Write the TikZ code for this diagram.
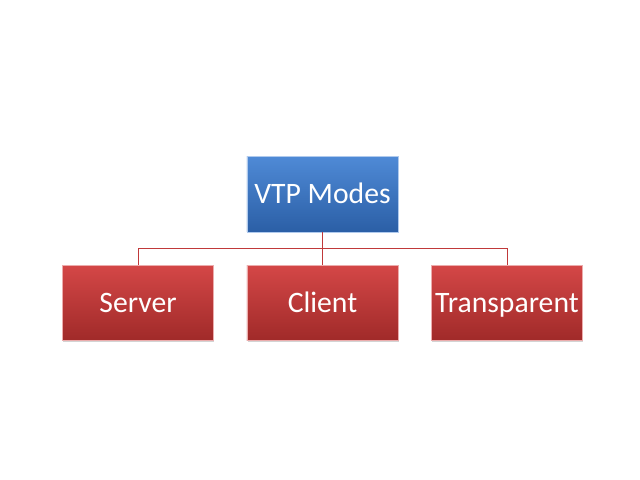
\documentclass[tikz,border=0pt]{standalone}
\usepackage{fontspec}
\setmainfont{Carlito}
\usetikzlibrary{shadows,positioning,calc}

\definecolor{topblue}{HTML}{4F8AD6}
\definecolor{botblue}{HTML}{2B5FA6}
\definecolor{topred}{HTML}{D44747}
\definecolor{botred}{HTML}{A02A29}
\definecolor{linkred}{HTML}{C0393A}

\begin{document}
\begin{tikzpicture}
[node distance=1.3cm,
box/.style={shape=rectangle,minimum width=6cm,minimum height=3cm,inner sep=2pt,
  text=white,font=\fontsize{33.5}{40}\selectfont,text height=21.5pt,text depth=0pt,
  line width=0.6pt,
  drop shadow={shadow xshift=0.8pt,shadow yshift=-1.2pt,opacity=0.35}},
headbox/.style={box,top color=topblue,bottom color=botblue,draw=white!55!topblue},
modebox/.style={box,top color=topred,bottom color=botred,draw=white!55!topred},
link/.style={line width=1.1pt,color=linkred}]

\useasboundingbox (0,0) rectangle (25.4,-19.05);

\node (vtp) [headbox] at (12.8,-7.7) {VTP Modes};
\node (client) [modebox,below=of vtp] {Client};
\node (server) [modebox,left=of client] {Server};
\node (transp) [modebox,right=of client] {Transparent};

\coordinate (bus) at ($(vtp.south)!0.5!(client.north)$);
\draw[link] (vtp) -- (client);
\draw[link] (bus) -| (server);
\draw[link] (bus) -| (transp);

\end{tikzpicture}
\end{document}
